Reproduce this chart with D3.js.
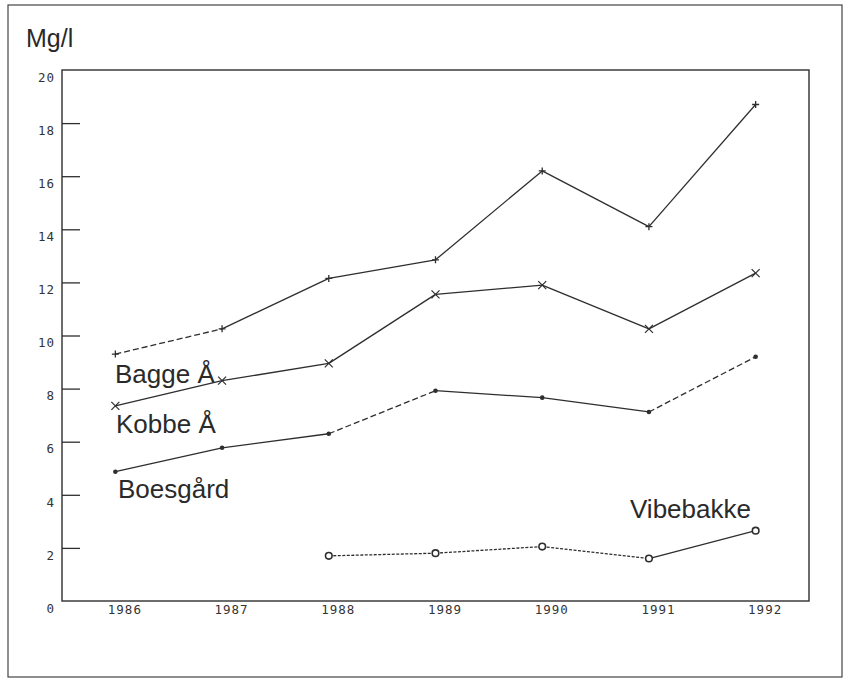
<!DOCTYPE html>
<html>
<head>
<meta charset="utf-8">
<script src="https://cdn.jsdelivr.net/npm/d3@7"></script>
<style>
  body { margin: 0; background: #fff; }
  svg { display: block; }
  .tick text { font-family: "DejaVu Sans Mono", monospace; font-size: 12.5px; fill: #333; letter-spacing: 1px; }
  .lbl { font-family: "Liberation Sans", Arial, sans-serif; fill: #2a2a2a; }
</style>
</head>
<body>
<svg id="chart" width="851" height="681"></svg>
<script>
// data (mg/l per year)
var years = [1986, 1987, 1988, 1989, 1990, 1991, 1992];
var yTicks = [0, 2, 4, 6, 8, 10, 12, 14, 16, 18, 20];

var baggeValues     = [9.3, 10.25, 12.15, 12.85, 16.2, 14.1, 18.7];
var kobbeValues     = [7.35, 8.3, 8.95, 11.55, 11.9, 10.25, 12.35];
var boesgaardValues = [4.87, 5.77, 6.3, 7.92, 7.66, 7.12, 9.2];
var vibebakkeValues = [null, null, 1.7, 1.8, 2.05, 1.6, 2.65];

// segment style between consecutive years: 's' solid, 'd' dashed, 'f' fine dashes
var baggeStyle     = ['d', 's', 's', 's', 's', 's'];
var kobbeStyle     = ['s', 's', 's', 's', 's', 's'];
var boesgaardStyle = ['s', 's', 'd', 's', 's', 'd'];
var vibebakkeStyle = ['s', 's', 'f', 'f', 'f', 's'];

var series = [
  {name: 'Bagge Å',   values: baggeValues,     style: baggeStyle,     marker: 'plus',  lx: 115, ly: 383},
  {name: 'Kobbe Å',   values: kobbeValues,     style: kobbeStyle,     marker: 'cross', lx: 116, ly: 433},
  {name: 'Boesgård',  values: boesgaardValues, style: boesgaardStyle, marker: 'dot',   lx: 118, ly: 498},
  {name: 'Vibebakke', values: vibebakkeValues, style: vibebakkeStyle, marker: 'ring',  lx: 630, ly: 518}
];

var svg = d3.select('#chart');
var ink = '#2e2e2e';

var x = d3.scaleLinear().domain([1985.5, 1992.5]).range([62, 809]);
var y = d3.scaleLinear().domain([0, 20]).range([601, 70]);

// outer page border
svg.append('rect')
  .attr('x', 8).attr('y', 5)
  .attr('width', 834).attr('height', 672)
  .attr('fill', 'none').attr('stroke', '#444').attr('stroke-width', 1.2);

// plot frame
svg.append('rect')
  .attr('x', x.range()[0]).attr('y', y.range()[1])
  .attr('width', x.range()[1] - x.range()[0])
  .attr('height', y.range()[0] - y.range()[1])
  .attr('fill', 'none').attr('stroke', ink).attr('stroke-width', 1.4);

// y axis: inward ticks, labels sitting a bit below the tick
var yAxis = svg.append('g')
  .attr('transform', 'translate(' + x.range()[0] + ',0)')
  .call(d3.axisLeft(y).tickValues(yTicks).tickSize(-18).tickPadding(7).tickFormat(d3.format('d')));
yAxis.select('.domain').remove();
yAxis.selectAll('.tick line').attr('stroke', ink).attr('stroke-width', 1.3)
  .attr('display', function(d){ return (d == 0 || d == 20) ? 'none' : null; });
yAxis.selectAll('.tick text').attr('dy', '0.9em').attr('letter-spacing', 0);

// x axis: no tick marks, labels only
var xAxis = svg.append('g')
  .attr('transform', 'translate(0,' + y.range()[0] + ')')
  .call(d3.axisBottom(x).tickValues(years).tickSize(0).tickPadding(4).tickFormat(d3.format('d')));
xAxis.select('.domain').remove();
xAxis.selectAll('.tick text').attr('dx', 9);

var line = d3.line()
  .x(function(d){ return x(d.year); })
  .y(function(d){ return y(d.value); });

var dashes = {s: null, d: '6,3', f: '3,1.5'};

series.forEach(function(s){
  var pts = [];
  years.forEach(function(yr, i){
    if (s.values[i] != null) pts.push({year: yr, value: s.values[i], i: i});
  });

  var segs = [];
  for (var k = 1; k < pts.length; k++) {
    segs.push({a: pts[k - 1], b: pts[k], style: s.style[pts[k - 1].i]});
  }

  var g = svg.append('g');

  g.selectAll('path.seg')
    .data(segs)
    .enter()
    .append('path')
    .attr('class', 'seg')
    .attr('d', function(d){ return line([d.a, d.b]); })
    .attr('fill', 'none')
    .attr('stroke', ink)
    .attr('stroke-width', 1.3)
    .attr('stroke-dasharray', function(d){ return dashes[d.style]; });

  var m = g.selectAll('g.mark')
    .data(pts)
    .enter()
    .append('g')
    .attr('class', 'mark')
    .attr('transform', function(d){ return 'translate(' + x(d.year) + ',' + y(d.value) + ')'; });

  if (s.marker == 'plus') {
    m.append('path').attr('d', 'M-3.5,0H3.5M0,-3.5V3.5').attr('stroke', ink).attr('stroke-width', 1.3);
  } else if (s.marker == 'cross') {
    m.append('path').attr('d', 'M-4,-4L4,4M-4,4L4,-4').attr('stroke', ink).attr('stroke-width', 1.2);
  } else if (s.marker == 'dot') {
    m.append('circle').attr('r', 2.3).attr('fill', ink);
  } else {
    m.append('circle').attr('r', 3.3).attr('fill', '#fff').attr('stroke', ink).attr('stroke-width', 1.6);
  }

  svg.append('text')
    .attr('class', 'lbl')
    .attr('x', s.lx).attr('y', s.ly)
    .style('font-size', '26px')
    .text(s.name);
});

// unit label
svg.append('text')
  .attr('class', 'lbl')
  .attr('x', 26).attr('y', 47)
  .style('font-size', '25px')
  .text('Mg/l');
</script>
</body>
</html>
